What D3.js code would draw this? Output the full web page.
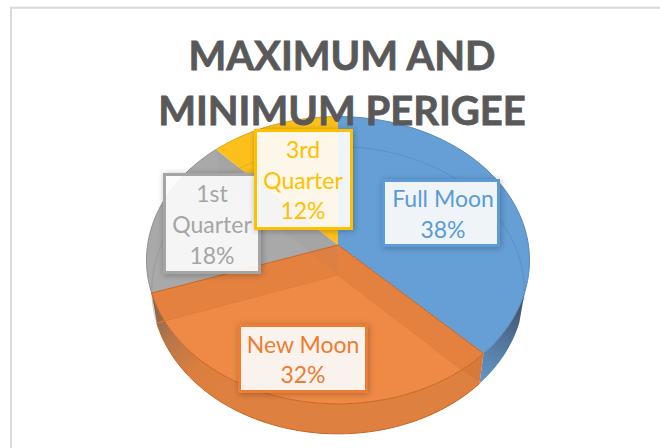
<!DOCTYPE html>
<html><head><meta charset="utf-8">
<script src="https://cdn.jsdelivr.net/npm/d3@7/dist/d3.min.js"></script>
<style>html,body{margin:0;padding:0;background:#fff}svg{display:block}</style>
</head><body><svg id="c" width="660" height="448"></svg>
<script>
const categories = ["Full Moon","New Moon","1st Quarter","3rd Quarter"];
const values = [37.5,32.2,18.2,12.1];
const titleLines = ["MAXIMUM AND","MINIMUM PERIGEE"];
const colors = ["#659fd6","#ee8a45","#a9a9a9","#fdc01b"];
const borderColors = ["#5b9bd5","#ed7d31","#a5a5a5","#ffc000"];
const labelLines = [["Full Moon","38%"],["New Moon","32%"],["1st","Quarter","18%"],["3rd","Quarter","12%"]];

const cx=338, cy=245, R=190.4, S=142, K=0.106, DEPTH=30, BX=0.972;
const svg=d3.select("#c");
const defs=svg.append("defs");
const f=defs.append("filter").attr("id","sh").attr("x","-20%").attr("y","-20%").attr("width","140%").attr("height","140%");
f.append("feDropShadow").attr("dx",1).attr("dy",1).attr("stdDeviation",3).attr("flood-color","#000").attr("flood-opacity",0.28);

svg.append("path").attr("d","M11,448V7.8H660").attr("fill","none").attr("stroke","#d9d9d9").attr("stroke-width",2);

const arcs=d3.pie().sort(null).value(d=>d)(values);
function topPt(a){const u=Math.sin(a),v=Math.cos(a),w=1+K*v;return [cx+R*u/w,cy-S*v/w];}
function botPt(a){const p=topPt(a);return [cx+(p[0]-cx)*BX,p[1]+DEPTH];}
function pts(fn,a0,a1){const n=Math.max(6,Math.ceil((a1-a0)*50));return d3.range(n+1).map(i=>fn(a0+(a1-a0)*i/n));}
const line=d3.line();
const closed=p=>line(p)+"Z";
const dark=(c,k)=>d3.interpolateRgb(c,"#000")(k);

// outer rim gradients
const rimG=defs.append("linearGradient").attr("id","rimO").attr("gradientUnits","userSpaceOnUse")
  .attr("x1",152).attr("y1",300).attr("x2",225).attr("y2",395);
[[0,"#77655a"],[0.35,"#b8764a"],[0.7,"#dc7f3e"],[1,"#de8040"]].forEach(s=>rimG.append("stop").attr("offset",s[0]).attr("stop-color",s[1]));
const rimB=defs.append("linearGradient").attr("id","rimB").attr("gradientUnits","userSpaceOnUse")
  .attr("x1",523).attr("y1",300).attr("x2",482).attr("y2",382);
[[0,"#3f4f63"],[0.5,"#53769c"],[1,"#6496c8"]].forEach(s=>rimB.append("stop").attr("offset",s[0]).attr("stop-color",s[1]));

// rim: side walls of the front arc
[[0,"url(#rimB)"],[1,"url(#rimO)"]].forEach(([i,fill])=>{
  const d=arcs[i];
  const a0=Math.max(d.startAngle,1.9), a1=d.endAngle;
  const t=pts(topPt,a0,a1), b=pts(botPt,a0,a1).reverse();
  svg.append("path").attr("d",closed([...t,...b])).attr("fill",fill);
});
// top faces
arcs.forEach((d,i)=>{
  svg.append("path").attr("d",closed([[cx,cy],...pts(topPt,d.startAngle,d.endAngle)])).attr("fill",colors[i]);
});
// see-through inner walls of the orange slice
[arcs[1].startAngle,arcs[1].endAngle].forEach(a=>{
  svg.append("path").attr("d",closed([[cx,cy],topPt(a),botPt(a),[cx,cy+DEPTH]])).attr("fill","#b0561c").attr("fill-opacity",0.17);
  svg.append("path").attr("d",line([[cx,cy+DEPTH],botPt(a)])).attr("fill","none").attr("stroke","#e37e38").attr("stroke-width",1);
});
// see-through back arc and walls of the other slices
[0,2,3].forEach(i=>{
  const d=arcs[i];
  const a0=i===0?0:d.startAngle, a1=i===0?1.75:d.endAngle;
  svg.append("path").attr("d",line(pts(botPt,a0,a1))).attr("fill","none").attr("stroke",dark(colors[i],0.18)).attr("stroke-width",1).attr("stroke-opacity",0.5);
});
svg.append("path").attr("d",closed([[cx,cy],topPt(0),botPt(0),[cx,cy+DEPTH]])).attr("fill","#7a5a30").attr("fill-opacity",0.08);
svg.append("path").attr("d",closed([[cx,cy],topPt(arcs[2].endAngle),botPt(arcs[2].endAngle),[cx,cy+DEPTH]])).attr("fill","#7a7a7a").attr("fill-opacity",0.08);
// edges of the top faces
arcs.forEach((d,i)=>{
  svg.append("path").attr("d",line(pts(topPt,d.startAngle,d.endAngle))).attr("fill","none").attr("stroke",i===1?"#c9651f":dark(colors[i],0.15)).attr("stroke-width",1);
});
[arcs[1].startAngle,arcs[1].endAngle].forEach(a=>{
  svg.append("path").attr("d",line([[cx,cy],topPt(a)])).attr("fill","none").attr("stroke","#c9651f").attr("stroke-width",1);
});
// outer bottom edge of the orange rim
svg.append("path").attr("d",line(pts(botPt,arcs[1].startAngle,arcs[1].endAngle))).attr("fill","none").attr("stroke","#c9651f").attr("stroke-width",1);

// title
titleLines.forEach((t,i)=>{
  svg.append("text").text(t).attr("x",342).attr("y",[70,125][i]).attr("text-anchor","middle")
    .attr("font-family","Lato, Carlito, sans-serif").attr("font-weight",700).attr("font-size",40)
    .attr("fill","#595959").attr("stroke","#595959").attr("stroke-width",0.8);
});

// labels
const boxes=[[383.5,180.5,115,65],[239.5,325.5,127,66],[164.5,174.5,95,98],[255.5,130.5,96,98]];
const textX=[443,303,212,303];
const baselines=[[207,238],[353,383],[202,233,264],[158,189,219]];
arcs.forEach((d,i)=>{
  const b=boxes[i];
  svg.append("rect").attr("x",b[0]).attr("y",b[1]).attr("width",b[2]).attr("height",b[3])
    .attr("fill","#fff").attr("fill-opacity",0.89).attr("stroke",borderColors[i]).attr("stroke-width",3).attr("filter","url(#sh)");
  labelLines[i].forEach((t,j)=>{
    svg.append("text").text(t).attr("x",textX[i]).attr("y",baselines[i][j]).attr("text-anchor","middle")
      .attr("font-family","Lato, Carlito, sans-serif").attr("font-size",23).attr("fill",borderColors[i]);
  });
});
</script></body></html>
